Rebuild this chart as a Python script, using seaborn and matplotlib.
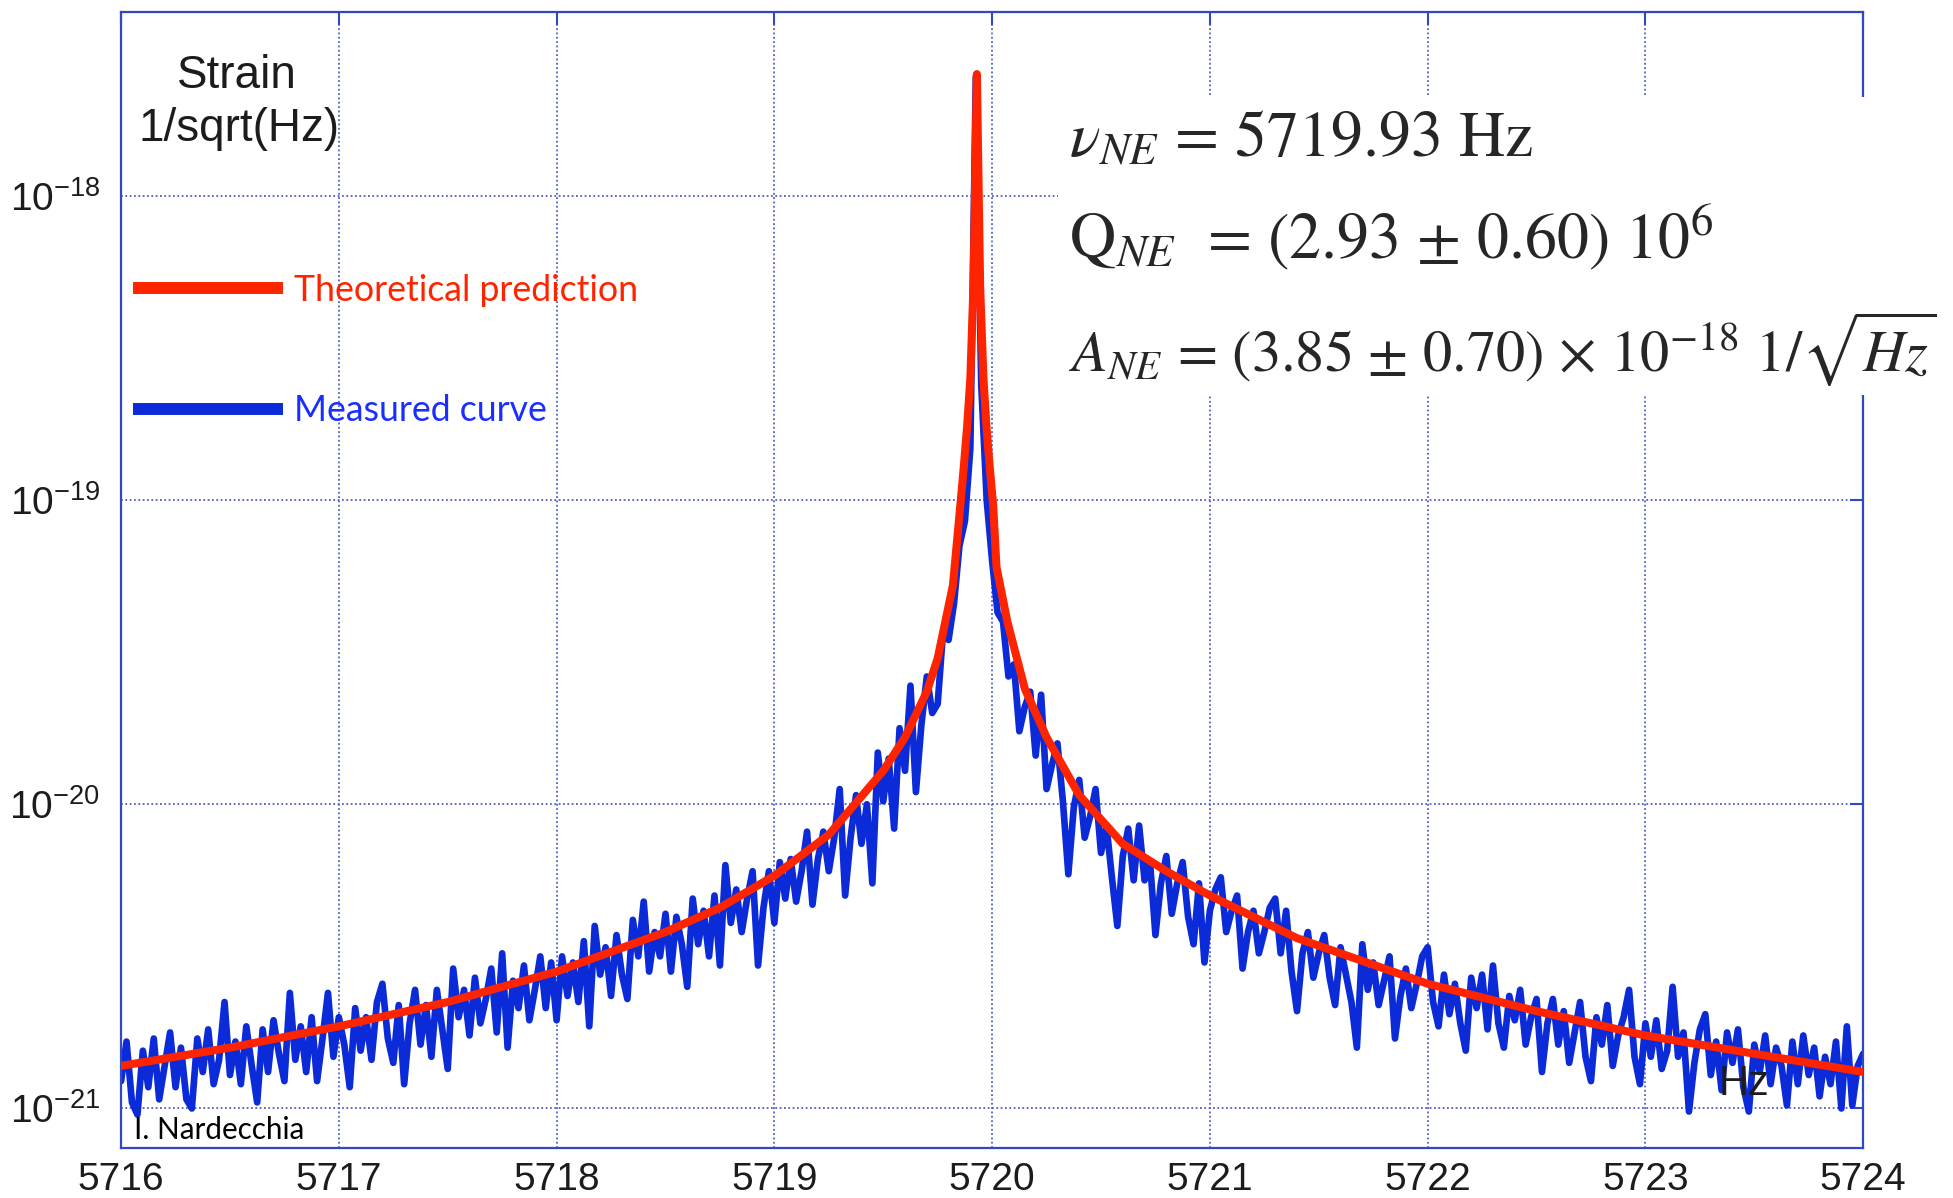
import numpy as np
import pandas as pd
import matplotlib
matplotlib.use("Agg")
import matplotlib.pyplot as plt
import matplotlib.ticker as mticker
from matplotlib.lines import Line2D
from matplotlib.patches import Rectangle
import seaborn as sns

# ---- data ----
x_ticks = [5716, 5717, 5718, 5719, 5720, 5721, 5722, 5723, 5724]
y_ticks = [1e-21, 1e-20, 1e-19, 1e-18]
y_tick_labels = [r"$\mathregular{10^{-21}}$", r"$\mathregular{10^{-20}}$",
                 r"$\mathregular{10^{-19}}$", r"$\mathregular{10^{-18}}$"]

# measured strain, log10(1/sqrt(Hz)), one sample every 0.025 Hz from 5716 to 5724
measured_log = [
    -20.91, -20.78, -20.98, -21.02, -20.81, -20.93, -20.77, -20.97, -20.86, -20.75,
    -20.93, -20.80, -20.97, -21.00, -20.77, -20.88, -20.74, -20.92, -20.84, -20.65,  # 5716.0
    -20.89, -20.78, -20.92, -20.73, -20.86, -20.98, -20.74, -20.88, -20.71, -20.82,
    -20.91, -20.62, -20.84, -20.73, -20.88, -20.70, -20.91, -20.77, -20.62, -20.83,  # 5716.5
    -20.70, -20.79, -20.93, -20.67, -20.81, -20.70, -20.84, -20.65, -20.59, -20.77,
    -20.85, -20.66, -20.92, -20.72, -20.61, -20.79, -20.66, -20.83, -20.61, -20.74,  # 5717.0
    -20.87, -20.54, -20.70, -20.61, -20.76, -20.57, -20.72, -20.64, -20.54, -20.75,
    -20.49, -20.80, -20.58, -20.67, -20.53, -20.71, -20.61, -20.50, -20.67, -20.52,  # 5717.5
    -20.71, -20.50, -20.63, -20.52, -20.65, -20.45, -20.73, -20.40, -20.56, -20.47,
    -20.63, -20.43, -20.56, -20.64, -20.38, -20.50, -20.32, -20.55, -20.42, -20.50,  # 5718.0
    -20.36, -20.55, -20.37, -20.46, -20.60, -20.31, -20.46, -20.35, -20.50, -20.30,
    -20.53, -20.20, -20.39, -20.28, -20.42, -20.31, -20.22, -20.53, -20.34, -20.22,  # 5718.5
    -20.39, -20.19, -20.31, -20.18, -20.32, -20.22, -20.09, -20.33, -20.18, -20.09,
    -20.22, -20.11, -19.95, -20.30, -20.11, -19.97, -20.13, -20.00, -20.26, -19.83,  # 5719.0
    -19.99, -19.85, -20.08, -19.75, -19.89, -19.61, -19.96, -19.74, -19.58, -19.70,
    -19.67, -19.43, -19.46, -19.34, -19.15, -19.07, -18.83, -17.61, -18.62, -19.00,  # 5719.5
    -19.20, -19.37, -19.40, -19.58, -19.54, -19.76, -19.68, -19.63, -19.84, -19.64,
    -19.95, -19.87, -19.80, -19.99, -20.23, -20.01, -19.92, -20.11, -20.04, -19.95,  # 5720.0
    -20.16, -20.07, -20.24, -20.40, -20.17, -20.08, -20.25, -20.07, -20.25, -20.19,
    -20.43, -20.26, -20.17, -20.36, -20.26, -20.19, -20.37, -20.46, -20.26, -20.52,  # 5720.5
    -20.35, -20.28, -20.24, -20.42, -20.35, -20.30, -20.54, -20.42, -20.35, -20.49,
    -20.42, -20.34, -20.31, -20.49, -20.35, -20.55, -20.68, -20.49, -20.42, -20.57,  # 5721.0
    -20.49, -20.43, -20.57, -20.66, -20.47, -20.56, -20.65, -20.80, -20.46, -20.61,
    -20.52, -20.66, -20.58, -20.50, -20.77, -20.63, -20.54, -20.67, -20.59, -20.50,  # 5721.5
    -20.47, -20.65, -20.73, -20.56, -20.69, -20.59, -20.72, -20.81, -20.57, -20.67,
    -20.56, -20.74, -20.53, -20.72, -20.80, -20.63, -20.71, -20.61, -20.79, -20.70,  # 5722.0
    -20.64, -20.88, -20.72, -20.64, -20.79, -20.68, -20.85, -20.75, -20.65, -20.83,
    -20.91, -20.70, -20.79, -20.66, -20.86, -20.76, -20.70, -20.61, -20.83, -20.92,  # 5722.5
    -20.72, -20.83, -20.71, -20.87, -20.81, -20.60, -20.83, -20.75, -21.01, -20.85,
    -20.74, -20.69, -20.89, -20.78, -20.94, -20.75, -20.85, -20.74, -20.93, -21.01,  # 5723.0
    -20.79, -20.88, -20.76, -20.92, -20.80, -20.86, -20.99, -20.78, -20.92, -20.76,
    -20.89, -20.80, -20.96, -20.83, -20.92, -20.78, -21.00, -20.73, -20.99, -20.86,  # 5723.5
    -20.82,                                                                          # 5724.0
]

# theoretical prediction, log10(1/sqrt(Hz))
theory_freq = [5716.0, 5716.5, 5717.0, 5717.5, 5718.0, 5718.5, 5718.75, 5719.0,
               5719.25, 5719.5, 5719.6, 5719.7, 5719.75, 5719.82, 5719.855, 5719.87,
               5719.885, 5719.9, 5719.915, 5719.93, 5719.945, 5719.96, 5719.975,
               5719.99, 5720.005, 5720.02, 5720.07, 5720.15, 5720.25, 5720.4, 5720.6,
               5720.8, 5721.0, 5721.4, 5722.0, 5722.5, 5723.0, 5723.5, 5724.0]
theory_log = [-20.86, -20.80, -20.73, -20.65, -20.55, -20.42, -20.34, -20.235,
              -20.10, -19.89, -19.78, -19.63, -19.52, -19.28, -19.01, -18.89,
              -18.76, -18.60, -18.28, -17.60, -18.30, -18.60, -18.77,
              -18.90, -19.02, -19.22, -19.40, -19.62, -19.78, -19.97, -20.13,
              -20.22, -20.30, -20.44, -20.59, -20.68, -20.76, -20.82, -20.88]

measured = pd.DataFrame({
    "freq": np.linspace(5716, 5724, len(measured_log)),
    "strain": 10 ** np.array(measured_log),
})
theory = pd.DataFrame({"freq": theory_freq, "strain": 10 ** np.array(theory_log)})

# ---- style ----
sns.set_theme(style="white")
plt.rcParams["font.family"] = ["Liberation Sans", "DejaVu Sans"]
plt.rcParams["mathtext.fontset"] = "stix"

frame_col = "#3047c6"
grid_col = "#4f60c8"
blue = "#0b2ad8"
red = "#ff2400"
txt_col = "#1c1c1c"

fig = plt.figure(figsize=(19.53, 11.98), dpi=100)
ax = fig.add_axes([0.062, 0.0417, 0.892, 0.948])

sns.lineplot(data=measured, x="freq", y="strain", ax=ax, color=blue,
             linewidth=4.8, estimator=None, zorder=2)
sns.lineplot(data=theory, x="freq", y="strain", ax=ax, color=red,
             linewidth=5.8, estimator=None, zorder=3)

ax.set_yscale("log")
ax.set_xlim(5716, 5724)
ax.set_ylim(10 ** -21.13, 10 ** -17.397)
ax.set_xticks(x_ticks)
ax.set_xticklabels([str(t) for t in x_ticks])
ax.set_yticks(y_ticks)
ax.set_yticklabels(y_tick_labels)
ax.yaxis.set_minor_locator(mticker.NullLocator())
ax.set_xlabel("")
ax.set_ylabel("")

ax.grid(True, which="major", color=grid_col, linestyle=(0, (1, 1.4)), linewidth=1.3)
ax.tick_params(axis="both", which="major", direction="in", length=9.5, width=1.5,
               color=frame_col, top=True, right=True, labelsize=28,
               labelcolor=txt_col)
ax.tick_params(axis="x", pad=10)
ax.tick_params(axis="y", pad=15)
for sp in ax.spines.values():
    sp.set_color(frame_col)
    sp.set_linewidth(1.6)

# axis titles drawn inside the frame
ax.text(0.0666, 0.9437, "Strain", transform=ax.transAxes, ha="center",
        va="center", fontsize=33, color=txt_col, zorder=6)
ax.text(0.0680, 0.8970, "1/sqrt(Hz)", transform=ax.transAxes, ha="center",
        va="center", fontsize=33, color=txt_col, zorder=6)
ax.text(0.9317, 0.056, "Hz", transform=ax.transAxes, ha="center", va="center",
        fontsize=30, color=txt_col, zorder=6)
ax.text(0.0077, 0.0158, "I. Nardecchia", transform=ax.transAxes, ha="left",
        va="center", fontsize=21.3, family=["Lato", "DejaVu Sans"], color="black",
        zorder=6)

handles = [Line2D([], [], color=red, lw=8.6, solid_capstyle="butt"),
           Line2D([], [], color=blue, lw=8.6, solid_capstyle="butt")]
ax.legend(handles, ["Theoretical prediction", "Measured curve"],
          loc="upper left", bbox_to_anchor=(0.0069, 0.7700), frameon=False,
          borderpad=0, borderaxespad=0, handlelength=4.2, handletextpad=0.3,
          labelspacing=2.45, labelcolor=[red, "#1a2eff"],
          prop={"family": ["Lato", "DejaVu Sans"], "size": 25.7})

# fitted parameters on a white panel
fig.patches.append(Rectangle((0.5417, 0.6703), 0.4583, 0.2487,
                             transform=fig.transFigure, facecolor="white",
                             edgecolor="none", zorder=5))
serif = ["STIXGeneral", "Liberation Serif", "DejaVu Serif"]
fig.text(0.5474, 0.8698, r"$\nu_{NE}$ = 5719.93 Hz", fontsize=46,
         family=serif, va="baseline", zorder=6)
fig.text(0.5474, 0.7846, r"Q$_{NE}$  = (2.93 ± 0.60) 10$^{6}$", fontsize=46,
         family=serif, va="baseline", zorder=6)
fig.text(0.5474, 0.6903, r"$A_{NE}$ = (3.85 ± 0.70) × 10$^{-18}$ 1/$\sqrt{Hz}$",
         fontsize=42, family=serif, va="baseline", zorder=6)

fig.savefig("out.png", dpi=100)
